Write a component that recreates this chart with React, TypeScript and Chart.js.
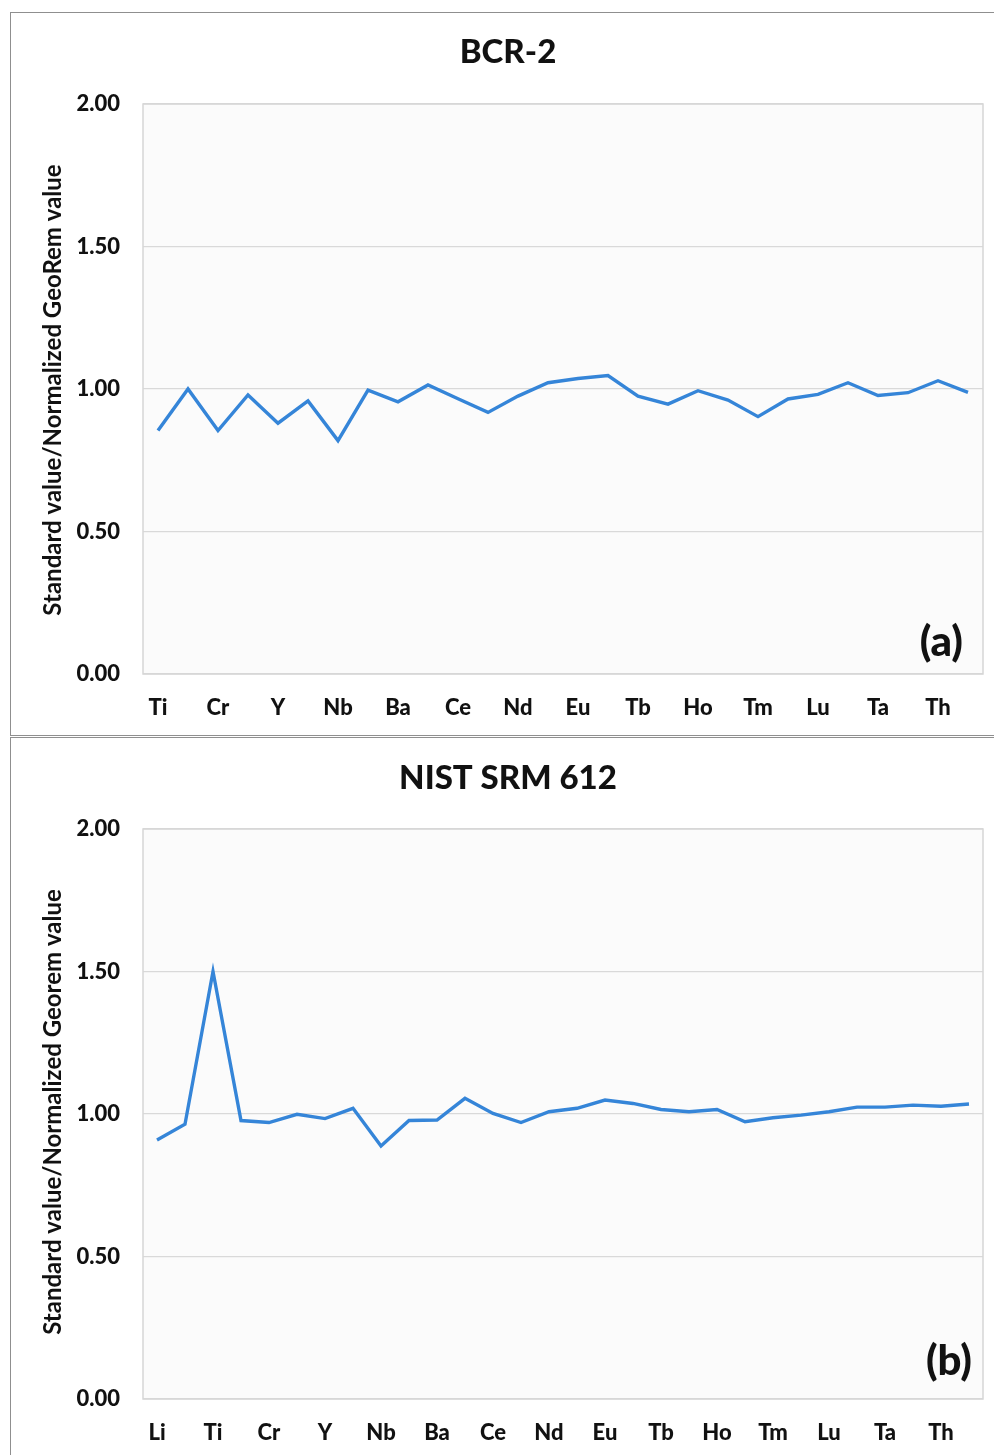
import { useEffect, useRef } from "react";
import { Chart, registerables } from "chart.js";

Chart.register(...registerables);

// BCR-2 basalt: element order along the x axis and normalized ratios
const bcrElements = [
  "Ti", "V", "Cr", "Rb", "Y", "Zr", "Nb", "Cs", "Ba", "La", "Ce", "Pr", "Nd", "Sm",
  "Eu", "Gd", "Tb", "Dy", "Ho", "Er", "Tm", "Yb", "Lu", "Hf", "Ta", "Pb", "Th", "U",
];
const bcrRatios = [
  0.854, 1.0, 0.854, 0.979, 0.88, 0.958, 0.819, 0.996, 0.955, 1.014, 0.966, 0.918, 0.975, 1.022,
  1.037, 1.047, 0.975, 0.947, 0.994, 0.961, 0.903, 0.965, 0.981, 1.022, 0.977, 0.987, 1.029, 0.988,
];

// NIST SRM 612 glass
const nistElements = [
  "Li", "Sc", "Ti", "V", "Cr", "Rb", "Y", "Zr", "Nb", "Cs", "Ba", "La", "Ce", "Pr", "Nd",
  "Sm", "Eu", "Gd", "Tb", "Dy", "Ho", "Er", "Tm", "Yb", "Lu", "Hf", "Ta", "Pb", "Th", "U",
];
const nistRatios = [
  0.909, 0.964, 1.5, 0.977, 0.97, 0.999, 0.984, 1.02, 0.888, 0.977, 0.979, 1.055, 1.002, 0.97, 1.008,
  1.02, 1.049, 1.037, 1.016, 1.008, 1.016, 0.973, 0.987, 0.996, 1.008, 1.024, 1.024, 1.031, 1.027, 1.035,
];

const yMin = 0;
const yMax = 2;
const yStep = 0.5;

const FONT = "Lato, 'Open Sans', 'DejaVu Sans', sans-serif";
const TEXT = "#111111";
const LINE = "#3585d8";

type PanelProps = {
  top: number;
  height: number;
  bottomBorder: boolean;
  title: string;
  tag: string;
  yTitle: string;
  labels: string[];
  values: number[];
  titleY: number;
  tagX: number;
  tagY: number;
  yTitleY: number;
};

const CANVAS_W = 983;
const PLOT_LEFT = 132;
const PLOT_TOP = 91;
const PLOT_BOTTOM = 661;
const PLOT_RIGHT_PAD = 11;

function Panel(p: PanelProps) {
  const ref = useRef<HTMLCanvasElement | null>(null);
  const canvasH = p.height - 1 - (p.bottomBorder ? 1 : 0);

  useEffect(() => {
    const canvas = ref.current;
    if (!canvas) return;

    const decor = {
      id: "panelDecor",
      beforeDraw(chart: Chart) {
        const { ctx, chartArea: a } = chart;
        ctx.save();
        ctx.fillStyle = "#fbfbfb";
        ctx.fillRect(a.left, a.top, a.right - a.left, a.bottom - a.top);
        ctx.restore();
      },
      afterDraw(chart: Chart) {
        const { ctx, chartArea: a } = chart;
        ctx.save();
        ctx.strokeStyle = "#d6d6d6";
        ctx.lineWidth = 1.5;
        ctx.strokeRect(a.left, a.top, a.right - a.left, a.bottom - a.top);

        ctx.fillStyle = TEXT;
        ctx.textAlign = "center";
        ctx.textBaseline = "middle";
        ctx.font = `900 33px ${FONT}`;
        ctx.fillText(p.title, 497, p.titleY);

        ctx.font = `900 42px ${FONT}`;
        ctx.textAlign = "right";
        ctx.fillText(p.tag, p.tagX, p.tagY);

        ctx.translate(42, p.yTitleY);
        ctx.rotate(-Math.PI / 2);
        ctx.textAlign = "center";
        ctx.font = `bold 24px ${FONT}`;
        ctx.fillText(p.yTitle, 0, 0);
        ctx.restore();
      },
    };

    const chart = new Chart(canvas, {
      type: "line",
      data: {
        labels: p.labels,
        datasets: [
          {
            data: p.values,
            borderColor: LINE,
            borderWidth: 3.4,
            pointRadius: 0,
            tension: 0,
            fill: false,
          },
        ],
      },
      options: {
        animation: false,
        responsive: false,
        events: [],
        layout: { padding: { top: PLOT_TOP, right: PLOT_RIGHT_PAD, left: 0, bottom: 0 } },
        plugins: {
          legend: { display: false },
          title: { display: false },
          tooltip: { enabled: false },
        },
        scales: {
          x: {
            type: "category",
            offset: true,
            grid: { display: false, drawTicks: false },
            border: { display: false },
            ticks: {
              autoSkip: false,
              maxRotation: 0,
              minRotation: 0,
              padding: 21,
              color: TEXT,
              font: { family: FONT, size: 22, weight: "900" },
              callback: (_v: any, i: number) => (i % 2 === 0 ? p.labels[i] : ""),
            },
            afterFit: (s: any) => {
              s.height = canvasH - PLOT_BOTTOM;
            },
          },
          y: {
            min: yMin,
            max: yMax,
            grid: { color: "#d9d9d9", lineWidth: 1.2, drawTicks: false },
            border: { display: false },
            ticks: {
              stepSize: yStep,
              padding: 23,
              color: TEXT,
              font: { family: FONT, size: 22, weight: "900" },
              callback: (v: any) => Number(v).toFixed(2),
            },
            afterFit: (s: any) => {
              s.width = PLOT_LEFT;
            },
          },
        },
      },
      plugins: [decor],
    });
    return () => chart.destroy();
  }, []);

  return (
    <div
      style={{
        position: "absolute",
        left: 10,
        top: p.top,
        width: 994,
        height: p.height,
        boxSizing: "border-box",
        borderTop: "1.5px solid #8f8f8f",
        borderLeft: "1.5px solid #8f8f8f",
        borderBottom: p.bottomBorder ? "1.5px solid #8f8f8f" : "none",
        background: "#ffffff",
      }}
    >
      <canvas
        ref={ref}
        width={CANVAS_W}
        height={canvasH}
        style={{ display: "block", width: CANVAS_W, height: canvasH }}
      />
    </div>
  );
}

export default function App() {
  return (
    <div style={{ position: "absolute", left: 0, top: 0, width: 994, height: 1455, background: "#fff", overflow: "hidden" }}>
      <Panel
        top={12}
        height={724}
        bottomBorder={true}
        title="BCR-2"
        tag="(a)"
        yTitle="Standard value/Normalized GeoRem value"
        labels={bcrElements}
        values={bcrRatios}
        titleY={39}
        tagX={952}
        tagY={629}
        yTitleY={377}
      />
      <Panel
        top={737}
        height={718}
        bottomBorder={false}
        title="NIST SRM 612"
        tag="(b)"
        yTitle="Standard value/Normalized Georem value"
        labels={nistElements}
        values={nistRatios}
        titleY={40}
        tagX={961}
        tagY={623}
        yTitleY={374}
      />
    </div>
  );
}
